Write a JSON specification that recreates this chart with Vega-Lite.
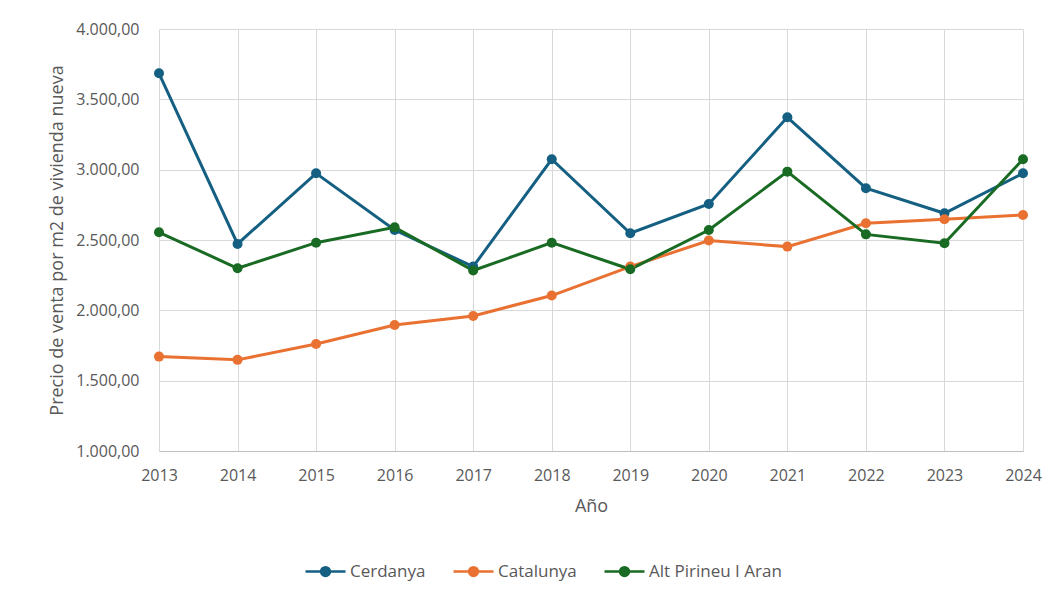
{
  "$schema": "https://vega.github.io/schema/vega-lite/v6.json",
  "autosize": {"type": "none"},
  "width": 864,
  "height": 422,
  "padding": {"left": 159, "top": 29, "right": 30, "bottom": 142},
  "background": "white",
  "config": {
    "locale": {"number": {"decimal": ",", "thousands": ".", "grouping": [3], "currency": ["", " €"]}},
    "font": "Open Sans",
    "view": {"stroke": null},
    "axis": {"gridColor": "#d9d9d9", "gridWidth": 1, "labelColor": "#595959", "titleColor": "#595959", "labelFontSize": 16, "titleFontSize": 18, "titleFontWeight": "normal", "ticks": false, "domain": false, "labelFont": "Open Sans", "titleFont": "Open Sans"}
  },
  "data": {
    "values": [
      {"year": 2013, "serie": "Cerdanya", "value": 3685},
      {"year": 2014, "serie": "Cerdanya", "value": 2472},
      {"year": 2015, "serie": "Cerdanya", "value": 2974},
      {"year": 2016, "serie": "Cerdanya", "value": 2571},
      {"year": 2017, "serie": "Cerdanya", "value": 2311},
      {"year": 2018, "serie": "Cerdanya", "value": 3074},
      {"year": 2019, "serie": "Cerdanya", "value": 2548},
      {"year": 2020, "serie": "Cerdanya", "value": 2756},
      {"year": 2021, "serie": "Cerdanya", "value": 3372},
      {"year": 2022, "serie": "Cerdanya", "value": 2868},
      {"year": 2023, "serie": "Cerdanya", "value": 2690},
      {"year": 2024, "serie": "Cerdanya", "value": 2974},
      {"year": 2013, "serie": "Catalunya", "value": 1671},
      {"year": 2014, "serie": "Catalunya", "value": 1648},
      {"year": 2015, "serie": "Catalunya", "value": 1761},
      {"year": 2016, "serie": "Catalunya", "value": 1896},
      {"year": 2017, "serie": "Catalunya", "value": 1960},
      {"year": 2018, "serie": "Catalunya", "value": 2105},
      {"year": 2019, "serie": "Catalunya", "value": 2311},
      {"year": 2020, "serie": "Catalunya", "value": 2496},
      {"year": 2021, "serie": "Catalunya", "value": 2453},
      {"year": 2022, "serie": "Catalunya", "value": 2619},
      {"year": 2023, "serie": "Catalunya", "value": 2647},
      {"year": 2024, "serie": "Catalunya", "value": 2678},
      {"year": 2013, "serie": "Alt Pirineu I Aran", "value": 2555},
      {"year": 2014, "serie": "Alt Pirineu I Aran", "value": 2299},
      {"year": 2015, "serie": "Alt Pirineu I Aran", "value": 2481},
      {"year": 2016, "serie": "Alt Pirineu I Aran", "value": 2590},
      {"year": 2017, "serie": "Alt Pirineu I Aran", "value": 2283},
      {"year": 2018, "serie": "Alt Pirineu I Aran", "value": 2481},
      {"year": 2019, "serie": "Alt Pirineu I Aran", "value": 2292},
      {"year": 2020, "serie": "Alt Pirineu I Aran", "value": 2571},
      {"year": 2021, "serie": "Alt Pirineu I Aran", "value": 2986},
      {"year": 2022, "serie": "Alt Pirineu I Aran", "value": 2540},
      {"year": 2023, "serie": "Alt Pirineu I Aran", "value": 2477},
      {"year": 2024, "serie": "Alt Pirineu I Aran", "value": 3074}
    ]
  },
  "encoding": {
    "x": {
      "field": "year", "type": "quantitative",
      "scale": {"domain": [2013, 2024], "nice": false, "zero": false},
      "axis": {"values": [2013,2014,2015,2016,2017,2018,2019,2020,2021,2022,2023,2024], "format": "d", "title": "Año", "labelPadding": 16, "titleY": 55, "titleBaseline": "middle", "domain": true, "domainColor": "#bfbfbf", "labelFlush": false}
    },
    "y": {
      "field": "value", "type": "quantitative",
      "scale": {"domain": [1000, 4000], "nice": false, "zero": false},
      "axis": {"values": [1000,1500,2000,2500,3000,3500,4000], "format": ",.2f", "title": "Precio de venta por m2  de vivienda nueva", "labelPadding": 20, "titleX": -102, "titleY": 211, "titleBaseline": "middle", "titleAlign": "center", "titleAngle": -90}
    },
    "color": {
      "field": "serie", "type": "nominal",
      "sort": ["Cerdanya", "Catalunya", "Alt Pirineu I Aran"],
      "scale": {"domain": ["Cerdanya", "Catalunya", "Alt Pirineu I Aran"], "range": ["#156082", "#E97132", "#196B24"]},
      "legend": {
        "title": null, "orient": "none", "direction": "horizontal", "legendX": 145, "legendY": 521,
        "symbolType": "M-1,0H1M0.22,0A0.22,0.22,0,1,1,-0.22,0A0.22,0.22,0,1,1,0.22,0Z",
        "symbolSize": 1600, "symbolStrokeWidth": 2.5, "labelFontSize": 17, "labelColor": "#595959", "columnPadding": 22, "labelOffset": 3,
        "encode": {"symbols": {"update": {"fill": {"scale": "color", "field": "value"}, "stroke": {"scale": "color", "field": "value"}, "strokeWidth": {"value": 2.5}}}}
      }
    }
  },
  "layer": [
    {"mark": {"type": "line", "strokeWidth": 3}},
    {"mark": {"type": "point", "filled": true, "size": 100, "opacity": 1}}
  ]
}
